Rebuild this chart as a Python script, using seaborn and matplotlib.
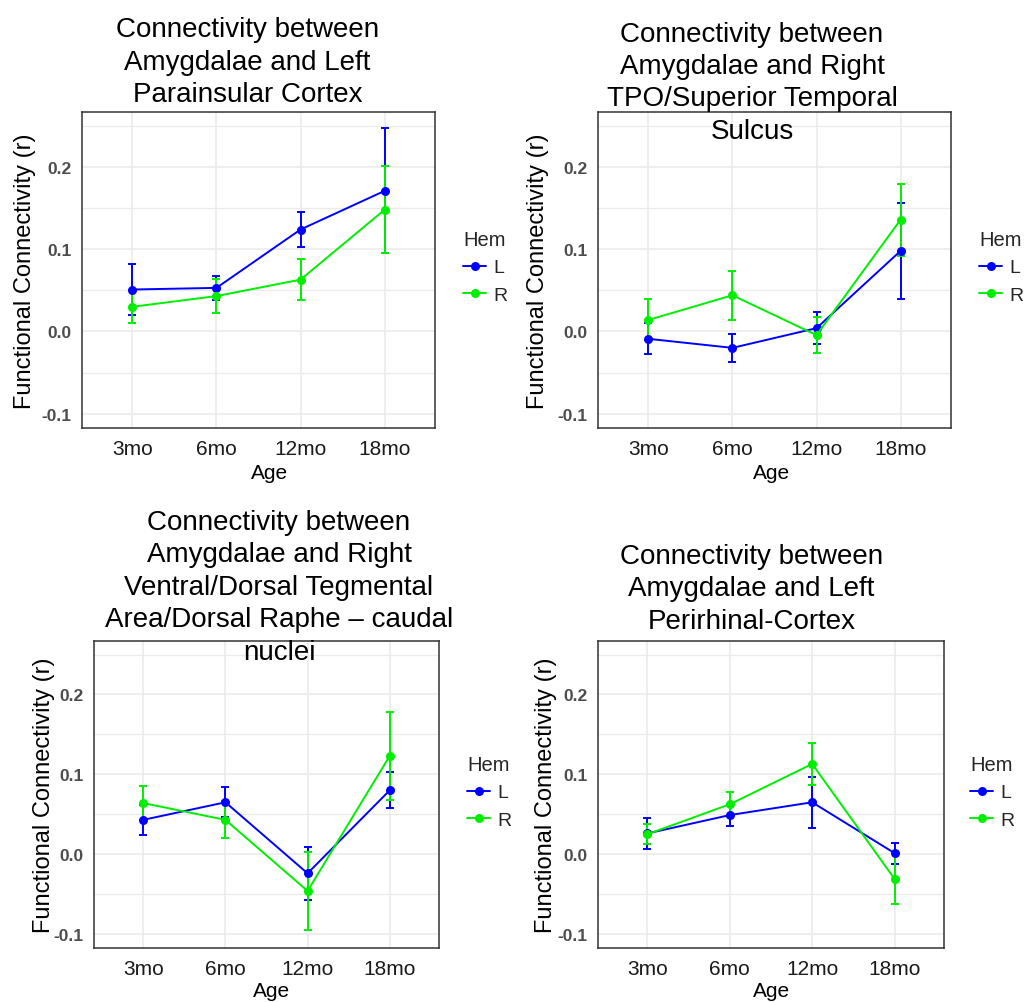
import matplotlib
matplotlib.use("Agg")
import matplotlib.pyplot as plt
from matplotlib.ticker import MultipleLocator
import pandas as pd
import seaborn as sns

# ---- data: mean functional connectivity (r) and standard error by age ----
ages = ["3mo", "6mo", "12mo", "18mo"]
hemispheres = ["L", "R"]

parainsular_L = [0.051, 0.053, 0.124, 0.171]
parainsular_L_se = [0.031, 0.015, 0.021, 0.076]
parainsular_R = [0.030, 0.043, 0.063, 0.148]
parainsular_R_se = [0.020, 0.021, 0.025, 0.053]

tpo_sts_L = [-0.009, -0.020, 0.004, 0.098]
tpo_sts_L_se = [0.019, 0.017, 0.0195, 0.058]
tpo_sts_R = [0.014, 0.044, -0.0045, 0.136]
tpo_sts_R_se = [0.025, 0.030, 0.022, 0.044]

vta_raphe_L = [0.043, 0.065, -0.024, 0.080]
vta_raphe_L_se = [0.019, 0.019, 0.033, 0.0225]
vta_raphe_R = [0.064, 0.043, -0.046, 0.123]
vta_raphe_R_se = [0.021, 0.023, 0.049, 0.0555]

perirhinal_L = [0.026, 0.049, 0.065, 0.0013]
perirhinal_L_se = [0.019, 0.014, 0.032, 0.013]
perirhinal_R = [0.025, 0.0625, 0.113, -0.031]
perirhinal_R_se = [0.0127, 0.016, 0.026, 0.032]

titles = [
    ["Connectivity between", "Amygdalae and Left", "Parainsular Cortex"],
    ["Connectivity between", "Amygdalae and Right", "TPO/Superior Temporal", "Sulcus"],
    ["Connectivity between", "Amygdalae and Right", "Ventral/Dorsal Tegmental",
     "Area/Dorsal Raphe \u2013 caudal", "nuclei"],
    ["Connectivity between", "Amygdalae and Left", "Perirhinal-Cortex"],
]

y_ticks = [-0.1, 0.0, 0.1, 0.2]
palette = {"L": "#0000ff", "R": "#00ee00"}

# ---- figure setup ----
W, H = 1024, 1003
sns.set_theme(style="white")
plt.rcParams["font.family"] = ["Liberation Sans", "DejaVu Sans"]

fig = plt.figure(figsize=(W / 100, H / 100), dpi=100)
fig.patch.set_facecolor("white")


def fx(x):
    return x / W


def fy(y):
    return 1 - y / H


# pixel layout of each panel: axes box, title anchor, label anchors, legend anchor
layout = [
    dict(box=(82, 113, 435, 429), title=(247.5, 37.0), ylab=(36.5,), xlab=(269.5, 479), leg=(463, 231)),
    dict(box=(598, 113, 951, 429), title=(752.0, 41.5), ylab=(549,), xlab=(772, 479), leg=(979, 231)),
    dict(box=(94, 642, 439, 949), title=(279.0, 530.0), ylab=(55,), xlab=(271.5, 997), leg=(467, 756)),
    dict(box=(598, 642, 944, 949), title=(751.5, 564.0), ylab=(557,), xlab=(772, 997), leg=(970, 756)),
]

series = [
    (parainsular_L, parainsular_L_se, parainsular_R, parainsular_R_se),
    (tpo_sts_L, tpo_sts_L_se, tpo_sts_R, tpo_sts_R_se),
    (vta_raphe_L, vta_raphe_L_se, vta_raphe_R, vta_raphe_R_se),
    (perirhinal_L, perirhinal_L_se, perirhinal_R, perirhinal_R_se),
]

LINE_SPACING = 32.5

for lay, (mL, sL, mR, sR), title_lines in zip(layout, series, titles):
    left, top, right, bottom = lay["box"]
    ax = fig.add_axes([fx(left), fy(bottom), (right - left) / W, (bottom - top) / H])

    df = pd.DataFrame({
        "Age": ages * 2,
        "Hem": [hemispheres[0]] * len(ages) + [hemispheres[1]] * len(ages),
        "r": mL + mR,
        "se": sL + sR,
    })

    sns.lineplot(data=df, x="Age", y="r", hue="Hem", palette=palette,
                 marker="o", markersize=6.5, markeredgewidth=0, linewidth=1.4,
                 errorbar=None, sort=False, ax=ax, zorder=3)

    for hem in hemispheres:
        sub = df[df["Hem"] == hem]
        ax.errorbar(sub["Age"], sub["r"], yerr=sub["se"], fmt="none",
                    ecolor=palette[hem], elinewidth=1.4, capsize=3.2,
                    capthick=1.4, zorder=2)

    # axes limits, ticks and grid
    ax.set_xlim(-0.6, len(ages) - 0.4)
    ax.set_ylim(-0.1175, 0.267)
    ax.set_yticks(y_ticks, labels=[f"{v:.1f}" for v in y_ticks],
                  fontweight="bold", color="#4d4d4d", fontsize=12.5)
    ax.yaxis.set_minor_locator(MultipleLocator(0.05))
    ax.set_axisbelow(True)
    ax.grid(True, which="major", color="#ebebeb", linewidth=1.2)
    ax.grid(True, which="minor", axis="y", color="#ebebeb", linewidth=0.9)
    ax.tick_params(which="minor", length=0)
    ax.tick_params(axis="both", which="major", direction="out", length=3,
                   width=0.9, color="#333333")
    ax.tick_params(axis="x", labelsize=15, labelcolor="#1a1a1a", pad=5)
    ax.tick_params(axis="y", pad=4.5)
    for sp in ax.spines.values():
        sp.set_color("#333333")
        sp.set_linewidth(1.1)

    # axis labels
    ax.set_ylabel("Functional Connectivity (r)", fontsize=17, color="black")
    ax.yaxis.set_label_coords((lay["ylab"][0] - left) / (right - left), 0.5)
    ax.set_xlabel("Age", fontsize=15, color="black")
    xl_x, xl_base = lay["xlab"]
    ax.xaxis.set_label_coords((xl_x - left) / (right - left),
                              (bottom - (xl_base - 15)) / (bottom - top))

    # legend
    handles, labels = ax.get_legend_handles_labels()
    ax.legend(handles, labels, title="Hem", loc="upper left",
              bbox_to_anchor=(fx(lay["leg"][0]), fy(lay["leg"][1])),
              bbox_transform=fig.transFigure, frameon=False,
              fontsize=14, title_fontsize=14.5, alignment="left",
              borderpad=0, borderaxespad=0, handlelength=1.2,
              handletextpad=0.35, labelspacing=0.5)

    # multi-line title
    tx, ty = lay["title"]
    for i, line in enumerate(title_lines):
        fig.text(fx(tx), fy(ty + i * LINE_SPACING), line, ha="center",
                 va="baseline", fontsize=20, color="black", zorder=5)

fig.savefig("out.png", dpi=100, facecolor="white")
